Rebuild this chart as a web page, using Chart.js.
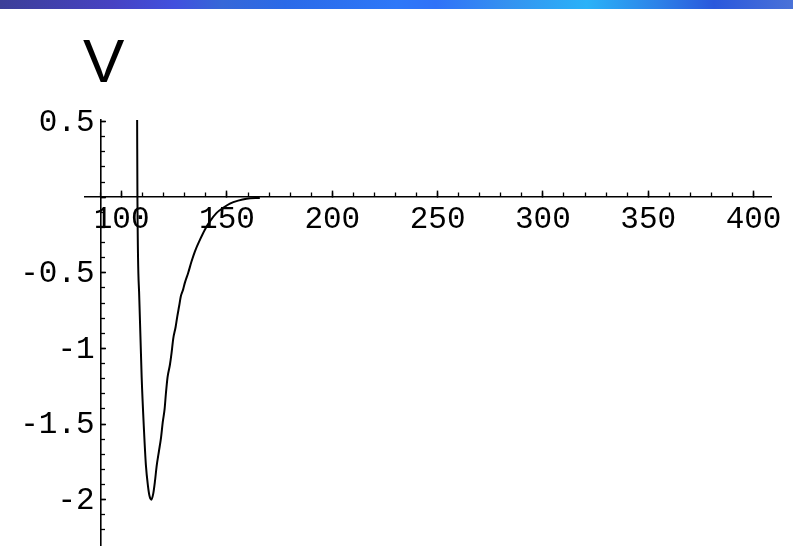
<!DOCTYPE html>
<html>
<head>
<meta charset="utf-8">
<title>V(r)</title>
<script src="https://cdn.jsdelivr.net/npm/chart.js@4.4.1/dist/chart.umd.min.js"></script>
<style>
  html, body { margin: 0; padding: 0; background: #fff; }
  #wrap { position: relative; width: 793px; height: 554px; overflow: hidden; }
  #band {
    position: absolute; left: 0; top: 0; width: 793px; height: 9px;
    background: linear-gradient(90deg, #3c3f98 0%, #4742c2 14%, #4150de 22%, #3668d8 28%,
      #2a6ae8 36%, #2e78f8 50%, #3072f8 55%, #3592f0 64%, #2ab2f8 74%, #2d82e8 83%,
      #2a58dc 90%, #4a72d8 100%);
  }
  canvas { position: absolute; left: 0; top: 0; }
</style>
</head>
<body>
<div id="wrap">
  <canvas id="chart" width="793" height="554"></canvas>
  <div id="band"></div>
</div>
<script>
// Potential curve V(r)
const radius = [107.35, 107.5, 108.4, 109.5, 110.6, 111.5, 112.5, 113.3, 114.1, 115.0,
  115.8, 116.6, 117.7, 118.7, 119.5, 120.4, 121.0, 121.8, 122.9, 123.7,
  124.5, 125.6, 126.4, 127.3, 128.1, 129.2, 130.0, 131.6, 133.2, 134.8,
  137.2, 139.5, 141.9, 145.1, 148.2, 151.4, 155.3, 159.3, 165.6];
const potential = [0.51, -0.02, -0.68, -1.19, -1.54, -1.77, -1.91, -1.98, -2.0, -1.96,
  -1.88, -1.78, -1.68, -1.59, -1.49, -1.40, -1.30, -1.19, -1.11, -1.03,
  -0.935, -0.86, -0.79, -0.72, -0.655, -0.61, -0.567, -0.50, -0.424, -0.358,
  -0.281, -0.215, -0.16, -0.104, -0.071, -0.043, -0.023, -0.010, -0.005];

// Axis ranges and tick spacing
const xRange = [82.6, 408.5];
const yRange = [-2.3, 0.51];
const xMajorStep = 50, xMinorStep = 10;
const yMajorStep = 0.5, yMinorStep = 0.1;
const yAxisAt = 90;   // the vertical axis crosses the horizontal one here
const xAxisAt = 0;
const axisTitle = 'V';

const MONO = '"Liberation Mono", "Courier New", monospace';
const tickFont = { family: MONO, size: 31 };

function fmt(v) {
  const r = Math.round(v * 100) / 100;
  return r === 0 ? '' : String(r);
}

// Draws the "V" title and the y tick labels beside the crossing axis
const axisTextPlugin = {
  id: 'axisText',
  afterDraw(chart) {
    const { ctx, chartArea, scales } = chart;
    ctx.save();
    ctx.fillStyle = '#000';
    ctx.font = '62px "Liberation Sans", Arial, sans-serif';
    ctx.textBaseline = 'alphabetic';
    ctx.textAlign = 'left';
    ctx.fillText(axisTitle, chartArea.left - 2, chartArea.top - 38);

    const ys = scales.y;
    const axisPx = scales.x.getPixelForValue(yAxisAt);
    ctx.font = tickFont.size + 'px ' + MONO;
    ctx.textAlign = 'right';
    ctx.textBaseline = 'middle';
    ys.ticks.forEach(t => {
      const label = fmt(t.value);
      if (label) ctx.fillText(label, axisPx - 6, ys.getPixelForValue(t.value) + 1);
    });
    ctx.restore();
  }
};

new Chart(document.getElementById('chart'), {
  type: 'line',
  data: {
    datasets: [{
      data: radius.map((r, i) => ({ x: r, y: potential[i] })),
      borderColor: '#000',
      borderWidth: 2,
      pointRadius: 0,
      fill: false,
      cubicInterpolationMode: 'monotone',
      xAxisID: 'x',
      yAxisID: 'y'
    }]
  },
  options: {
    responsive: false,
    animation: false,
    devicePixelRatio: 1,
    layout: { padding: { left: 85, right: 21, top: 120, bottom: 9 } },
    plugins: { legend: { display: false }, tooltip: { enabled: false } },
    scales: {
      x: {
        type: 'linear', axis: 'x', min: xRange[0], max: xRange[1],
        position: { y: xAxisAt },
        grid: { drawOnChartArea: false, tickLength: -7, tickColor: '#000', tickWidth: 1.5 },
        border: { display: true, color: '#000', width: 1.6 },
        ticks: { stepSize: xMajorStep, includeBounds: false, autoSkip: false, maxRotation: 0,
                 font: tickFont, color: '#000', padding: 11, callback: v => String(v) }
      },
      xMinor: {
        type: 'linear', axis: 'x', min: xRange[0], max: xRange[1],
        position: { y: xAxisAt },
        grid: { drawOnChartArea: false, tickLength: -4.5, tickColor: '#000', tickWidth: 1.3 },
        border: { display: false },
        ticks: { stepSize: xMinorStep, includeBounds: false, autoSkip: false, display: false }
      },
      y: {
        type: 'linear', axis: 'y', min: yRange[0], max: yRange[1],
        position: { x: yAxisAt },
        grid: { drawOnChartArea: false, tickLength: -6, tickColor: '#000', tickWidth: 1.5 },
        border: { display: true, color: '#000', width: 1.6 },
        ticks: { stepSize: yMajorStep, includeBounds: false, autoSkip: false, display: false }
      },
      yMinor: {
        type: 'linear', axis: 'y', min: yRange[0], max: yRange[1],
        position: { x: yAxisAt },
        grid: { drawOnChartArea: false, tickLength: -4, tickColor: '#000', tickWidth: 1.3 },
        border: { display: false },
        ticks: { stepSize: yMinorStep, includeBounds: false, autoSkip: false, display: false }
      }
    }
  },
  plugins: [axisTextPlugin]
});
</script>
</body>
</html>
